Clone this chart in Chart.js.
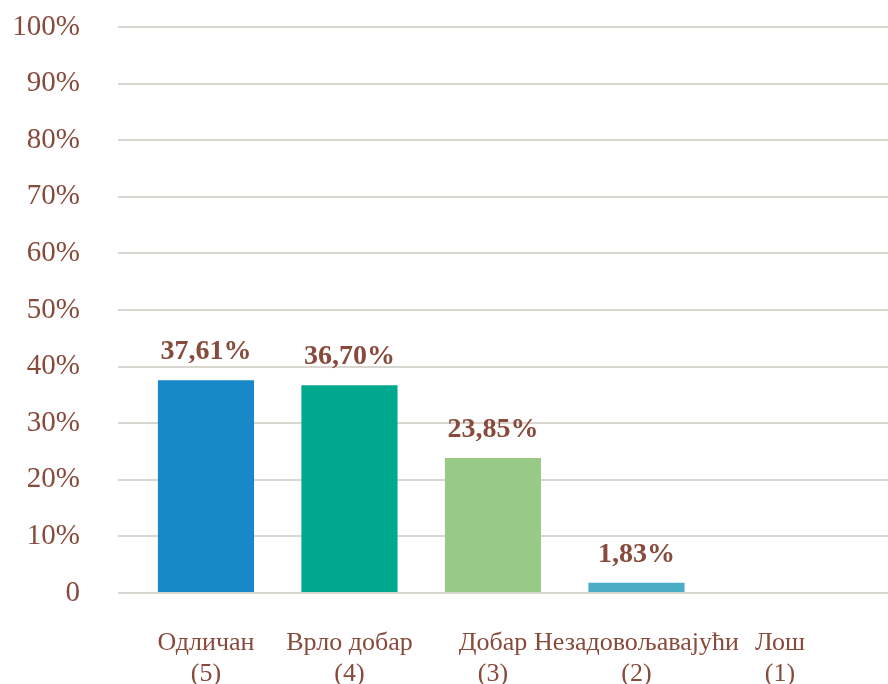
<!DOCTYPE html>
<html>
<head>
<meta charset="utf-8">
<script src="https://cdn.jsdelivr.net/npm/chart.js@4.4.0/dist/chart.umd.min.js"></script>
<style>
  html, body { margin: 0; padding: 0; background: #fff; }
  #wrap { width: 888px; height: 684px; position: relative; }
</style>
</head>
<body>
<div id="wrap"><canvas id="chart"></canvas></div>
<script>
// podaci sa grafika
const categories = [['Одличан', '(5)'], ['Врло добар', '(4)'], ['Добар', '(3)'], ['Незадовољавајући', '(2)'], ['Лош', '(1)']];
const values = [37.61, 36.70, 23.85, 1.83, 0];
const barColors = ['#1788c8', '#00a88f', '#99c987', '#4bacc6', '#4bacc6'];
const yTicks = [0, 10, 20, 30, 40, 50, 60, 70, 80, 90, 100];

const textColor = '#874a3b';

// etikete iznad stubova
const valueLabels = {
  id: 'valueLabels',
  afterDatasetsDraw(chart) {
    const ctx = chart.ctx;
    const meta = chart.getDatasetMeta(0);
    ctx.save();
    ctx.font = 'bold 28px "Liberation Serif", "Times New Roman", serif';
    ctx.fillStyle = textColor;
    ctx.textAlign = 'center';
    ctx.textBaseline = 'alphabetic';
    meta.data.forEach((bar, i) => {
      if (!values[i]) return;
      const txt = values[i].toFixed(2).replace('.', ',') + '%';
      ctx.fillText(txt, bar.x, bar.y - 21);
    });
    ctx.restore();
  }
};

new Chart(document.getElementById('chart'), {
  type: 'bar',
  data: {
    datasets: [{
      data: values.map((v, i) => ({ x: i, y: v })),
      backgroundColor: barColors,
      borderWidth: 0,
      barPercentage: 0.67,
      categoryPercentage: 1
    }]
  },
  options: {
    responsive: true,
    maintainAspectRatio: false,
    animation: false,
    layout: { padding: { top: 27, left: 8, right: 0, bottom: 0 } },
    plugins: { legend: { display: false }, tooltip: { enabled: false } },
    scales: {
      y: {
        min: 0, max: 100,
        afterBuildTicks: axis => { axis.ticks = yTicks.map(v => ({ value: v })); },
        afterFit: axis => { axis.width = 110; axis.paddingTop = 0; axis.paddingBottom = 0; },
        grid: { color: '#d9d6d0', lineWidth: 2, drawTicks: false },
        border: { display: false },
        ticks: {
          color: textColor,
          padding: 38,
          font: { family: '"Liberation Serif", "Times New Roman", serif', size: 29 },
          callback: v => v === 0 ? '0' : v + '%'
        }
      },
      x: {
        type: 'linear',
        offset: false,
        min: -0.613, max: 4.753,
        afterBuildTicks: axis => { axis.ticks = categories.map((c, i) => ({ value: i })); },
        afterFit: axis => { axis.height = 91; axis.paddingLeft = 0; axis.paddingRight = 0; },
        grid: { display: false },
        border: { display: false },
        ticks: {
          color: textColor,
          padding: 27,
          maxRotation: 0,
          autoSkip: false,
          font: { family: '"Liberation Serif", "Times New Roman", serif', size: 26, lineHeight: 1.18 },
          callback: v => categories[v]
        }
      }
    }
  },
  plugins: [valueLabels]
});
</script>
</body>
</html>
